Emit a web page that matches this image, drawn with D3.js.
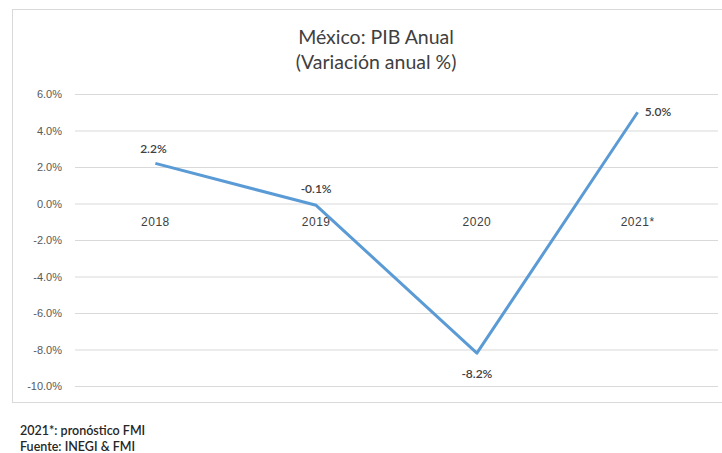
<!DOCTYPE html>
<html>
<head>
<meta charset="utf-8">
<script src="https://cdn.jsdelivr.net/npm/d3@7/dist/d3.min.js"></script>
<style>
  html, body { margin: 0; padding: 0; background: #fff; }
  svg { display: block; font-family: Lato, "Open Sans", sans-serif; }
</style>
</head>
<body>
<svg id="chart" width="722" height="453"></svg>
<script>
// PIB de México, variación anual (%)
const years = ["2018", "2019", "2020", "2021*"];
const growth = [2.2, -0.1, -8.2, 5.0];
const yTicks = [6, 4, 2, 0, -2, -4, -6, -8, -10];
const titleLines = ["México: PIB Anual", "(Variación anual %)"];
const notes = ["2021*: pronóstico FMI", "Fuente: INEGI & FMI"];

const svg = d3.select("#chart");
const plot = { left: 75, right: 718, top: 94, bottom: 386 };

// percent with a plain hyphen for negatives
const pct = d => d3.format(".1f")(d).replace("\u2212", "-") + "%";

// chart frame
svg.append("rect")
  .attr("x", 12.5).attr("y", 9.5)
  .attr("width", 720).attr("height", 393)
  .attr("fill", "#fff").attr("stroke", "#d9d9d9").attr("stroke-width", 1);

const x = d3.scaleBand().domain(years).range([plot.left, plot.right]);
const y = d3.scaleLinear().domain([-10, 6]).range([plot.bottom, plot.top]);

// gridlines and y labels
const yAxis = d3.axisLeft(y).tickValues(yTicks)
  .tickSize(-(plot.right - plot.left))
  .tickPadding(13)
  .tickFormat(pct);
const gy = svg.append("g").attr("transform", `translate(${plot.left},0)`).call(yAxis);
gy.select(".domain").remove();
gy.selectAll(".tick line").attr("stroke", "#d9d9d9").attr("stroke-width", 1);
gy.selectAll(".tick text").attr("fill", "#595959").attr("font-size", 11);

// category labels sitting just below the zero line
const xAxis = d3.axisBottom(x).tickSize(0).tickPadding(14);
const gx = svg.append("g").attr("transform", `translate(0,${y(0)})`).call(xAxis);
gx.select(".domain").remove();
gx.selectAll(".tick text").attr("fill", "#404040").attr("font-size", 12)
  .attr("letter-spacing", 0.5);

// line
const line = d3.line()
  .x((d, i) => x(years[i]) + x.bandwidth() / 2)
  .y(d => y(d));
svg.append("path")
  .datum(growth)
  .attr("d", line)
  .attr("fill", "none")
  .attr("stroke", "#5b9bd5")
  .attr("stroke-width", 3)
  .attr("stroke-linejoin", "round");

// data labels
const labelPos = [
  { dx: -2, dy: -10, anchor: "middle" },
  { dx: 0, dy: -12, anchor: "middle" },
  { dx: 0, dy: 25, anchor: "middle" },
  { dx: 7, dy: 4, anchor: "start" }
];
svg.append("g").selectAll("text")
  .data(growth)
  .join("text")
  .attr("x", (d, i) => x(years[i]) + x.bandwidth() / 2 + labelPos[i].dx)
  .attr("y", (d, i) => y(d) + labelPos[i].dy)
  .attr("text-anchor", (d, i) => labelPos[i].anchor)
  .attr("font-size", 12)
  .attr("font-weight", 600)
  .attr("fill", "#404040")
  .text(pct);

// title
svg.append("g").selectAll("text")
  .data(titleLines)
  .join("text")
  .attr("x", 376)
  .attr("y", (d, i) => 44 + i * 25)
  .attr("text-anchor", "middle")
  .attr("font-size", 19.5)
  .attr("fill", "#404040")
  .text(d => d);

// footnotes
svg.append("g").selectAll("text")
  .data(notes)
  .join("text")
  .attr("x", 20)
  .attr("y", (d, i) => 435 + i * 16)
  .attr("font-size", 12.5)
  .attr("font-weight", 600)
  .attr("fill", "#262626")
  .text(d => d);
</script>
</body>
</html>
